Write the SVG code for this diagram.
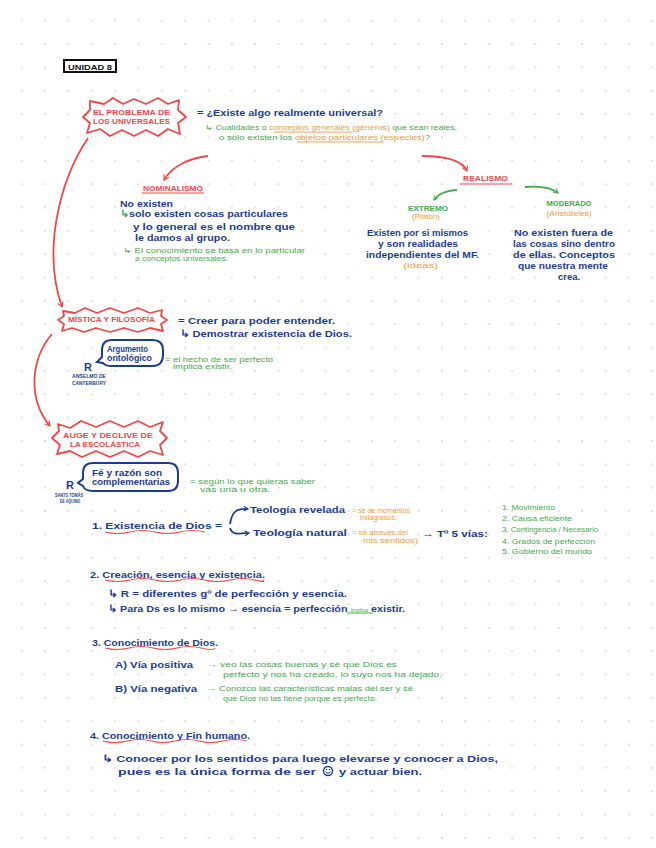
<svg xmlns="http://www.w3.org/2000/svg" width="656" height="848" viewBox="0 0 656 848">
<defs>
<pattern id="dots" patternUnits="userSpaceOnUse" x="10" y="9" width="23.35" height="23.35">
<circle cx="11.7" cy="11.7" r="0.9" fill="#cfcfcf"/>
</pattern>
<marker id="ar" viewBox="0 0 10 10" refX="8" refY="5" markerWidth="7" markerHeight="7" orient="auto" markerUnits="userSpaceOnUse"><path d="M1,1 L8,5 L1,9" fill="none" stroke="#ef4848" stroke-width="1.6"/></marker>
<marker id="ag" viewBox="0 0 10 10" refX="8" refY="5" markerWidth="6" markerHeight="6" orient="auto" markerUnits="userSpaceOnUse"><path d="M1,1 L8,5 L1,9" fill="none" stroke="#45a94c" stroke-width="1.6"/></marker>
<marker id="ab" viewBox="0 0 10 10" refX="8" refY="5" markerWidth="6" markerHeight="6" orient="auto" markerUnits="userSpaceOnUse"><path d="M1,1 L8,5 L1,9" fill="none" stroke="#1c3d8f" stroke-width="1.8"/></marker>
</defs>
<style>
text{font-family:"Liberation Sans",Arial,sans-serif}
.b{fill:#1c3d8f;font-size:9.5px;font-weight:bold}
.bs{fill:#1c3d8f;font-size:8.5px;font-weight:bold}
.g{fill:#45a94c;font-size:6.5px}
.o{fill:#f39a3c;font-size:6.5px}
.r{fill:#ef4848;font-size:7.5px;font-weight:bold}
.rh{fill:#ef4848;font-size:8px;font-weight:bold}
.tiny{fill:#1c3d8f;font-size:4.5px;font-weight:bold}
.burst{fill:#fff;stroke:#ef4848;stroke-width:1.8;stroke-linejoin:round}
.bub{fill:#fff;stroke:#1c3d8f;stroke-width:2}
.ra{fill:none;stroke:#ef4848;stroke-width:1.8;marker-end:url(#ar)}
.ga{fill:none;stroke:#45a94c;stroke-width:1.8;marker-end:url(#ag)}
.ba{fill:none;stroke:#1c3d8f;stroke-width:1.8;marker-end:url(#ab)}
.ul{fill:none;stroke:#ef4848;stroke-width:1.2}
.ou{fill:none;stroke:#f39a3c;stroke-width:0.9}
</style>
<rect width="656" height="848" fill="#fff"/>
<rect width="656" height="848" fill="url(#dots)"/>

<g id="unidad">
<rect x="64" y="60" width="52" height="12" fill="#fff" stroke="#111" stroke-width="2"/>
<text x="68" y="69.5" font-size="7" font-weight="bold" fill="#111" textLength="44" lengthAdjust="spacingAndGlyphs">UNIDAD 8</text>
</g>

<g id="connectors">
<path class="ra" d="M88,138 C60,180 42,250 62,307"/>
<path class="ra" d="M52,334 C30,360 28,400 50,426"/>
<path class="ra" d="M208,156 C190,158 172,166 164,180"/>
<path class="ra" d="M422,156 C445,156 462,160 467,171"/>
<path class="ga" d="M457,190 C447,190 438,194 434,200"/>
<path class="ga" d="M525,187 C540,186 552,188 558,193"/>
<path class="ba" d="M230,524 C232,512 236,508 248,509"/>
<path class="ba" d="M230,528 C232,535 238,534 249,533"/>
</g>

<g id="problema">
<path class="burst" d="M90,101 L104,104 L113,98 L123,104 L134,99 L146,104 L158,98 L168,104 L179,100 L178,110 L186,117 L178,123 L180,134 L168,129 L158,136 L146,130 L134,136 L122,130 L110,136 L100,129 L87,133 L90,123 L83,117 L90,110 Z"/>
<text class="r" x="93" y="114.5" textLength="77" lengthAdjust="spacingAndGlyphs">EL PROBLEMA DE</text>
<text class="r" x="93" y="124" textLength="77" lengthAdjust="spacingAndGlyphs">LOS UNIVERSALES</text>
</g>

<g id="pregunta">
<text class="b" x="197" y="116" textLength="186" lengthAdjust="spacingAndGlyphs">= ¿Existe algo realmente universal?</text>
<text class="g" x="205" y="130" textLength="252" lengthAdjust="spacingAndGlyphs">↳ Cualidades o <tspan fill="#f39a3c">conceptos generales</tspan> <tspan fill="#f39a3c">(géneros)</tspan> que sean reales,</text>
<text class="g" x="219" y="140" textLength="211" lengthAdjust="spacingAndGlyphs">o solo existen los <tspan fill="#f39a3c">objetos particulares</tspan> <tspan fill="#f39a3c">(especies)</tspan>?</text>
<path class="ou" d="M274,132 H353 M297,142 H382"/>
</g>

<g id="nominalismo">
<text class="rh" x="143" y="190.5" textLength="60" lengthAdjust="spacingAndGlyphs">NOMINALISMO</text>
<path class="ul" d="M142,193 H204"/>
<text class="b" x="120" y="206.5" textLength="53" lengthAdjust="spacingAndGlyphs">No existen</text>
<text class="b" x="120" y="216.5" textLength="168" lengthAdjust="spacingAndGlyphs"><tspan fill="#45a94c">↳</tspan>solo existen cosas particulares</text>
<text class="b" x="133" y="229.5" textLength="162" lengthAdjust="spacingAndGlyphs">y lo general es el nombre que</text>
<text class="b" x="135" y="240.5" textLength="95" lengthAdjust="spacingAndGlyphs">le damos al grupo.</text>
<text class="g" x="123" y="252.5" textLength="182" lengthAdjust="spacingAndGlyphs">↳ El conocimiento se basa en lo particular</text>
<text class="g" x="135" y="260.5" textLength="93" lengthAdjust="spacingAndGlyphs">a conceptos universales.</text>
</g>

<g id="realismo">
<text class="rh" x="463" y="181" textLength="45" lengthAdjust="spacingAndGlyphs">REALISMO</text>
<path class="ul" d="M460,184 H512"/>
</g>

<g id="extremo">
<text x="428" y="210.5" text-anchor="middle" fill="#45a94c" font-size="7" font-weight="bold" textLength="40" lengthAdjust="spacingAndGlyphs">EXTREMO</text>
<text class="o" x="426" y="219" text-anchor="middle" textLength="28" lengthAdjust="spacingAndGlyphs">(Platón)</text>
<text class="b" x="367" y="235.5" textLength="101" lengthAdjust="spacingAndGlyphs">Existen por si mismos</text>
<text class="b" x="378" y="246.5" textLength="80" lengthAdjust="spacingAndGlyphs">y son realidades</text>
<text class="b" x="366" y="257.5" textLength="113" lengthAdjust="spacingAndGlyphs">independientes del MF.</text>
<text class="o" x="403" y="267.5" textLength="35" lengthAdjust="spacingAndGlyphs">(Ideas)</text>
</g>

<g id="moderado">
<text x="569" y="205.5" text-anchor="middle" fill="#45a94c" font-size="7" font-weight="bold" textLength="45" lengthAdjust="spacingAndGlyphs">MODERADO</text>
<text class="o" x="569" y="215.5" text-anchor="middle" textLength="45" lengthAdjust="spacingAndGlyphs">(Aristóteles)</text>
<text class="b" x="514" y="235.5" textLength="99" lengthAdjust="spacingAndGlyphs">No existen fuera de</text>
<text class="b" x="513" y="246.5" textLength="102" lengthAdjust="spacingAndGlyphs">las cosas sino dentro</text>
<text class="b" x="513" y="257.5" textLength="102" lengthAdjust="spacingAndGlyphs">de ellas. Conceptos</text>
<text class="b" x="518" y="268.5" textLength="90" lengthAdjust="spacingAndGlyphs">que nuestra mente</text>
<text class="b" x="558" y="279.5" textLength="22" lengthAdjust="spacingAndGlyphs">crea.</text>
</g>

<g id="mistica">
<path class="burst" d="M63,311 L75,313 L85,308 L97,313 L110,308 L124,313 L138,308 L150,313 L162,310 L161,316 L167,320 L161,324 L163,331 L150,328 L138,332 L124,328 L110,332 L96,328 L84,332 L72,328 L62,331 L64,324 L58,320 L64,316 Z"/>
<text class="r" x="68" y="322" textLength="87" lengthAdjust="spacingAndGlyphs">MÍSTICA Y FILOSOFÍA</text>
<text class="b" x="178" y="323.5" textLength="157" lengthAdjust="spacingAndGlyphs">= Creer para poder entender.</text>
<text class="b" x="180" y="336.5" textLength="172" lengthAdjust="spacingAndGlyphs">↳ Demostrar existencia de Dios.</text>
</g>

<g id="anselmo">
<path class="bub" d="M112,340 H152 Q163,340 163,350 V355 Q163,366 152,366 H112 Q105,366 103,363 L97,362 L102,357 V350 Q102,340 112,340 Z"/>
<text class="bs" x="107" y="352" font-size="7.5px" textLength="41" lengthAdjust="spacingAndGlyphs">Argumento</text>
<text class="bs" x="107" y="360.5" font-size="7.5px" textLength="45" lengthAdjust="spacingAndGlyphs">ontológico</text>
<text x="84" y="371" fill="#1c3d8f" font-size="11" font-weight="bold">R</text>
<text class="tiny" x="89" y="377.5" text-anchor="middle" textLength="34" lengthAdjust="spacingAndGlyphs">ANSELMO DE</text>
<text class="tiny" x="89" y="384.5" text-anchor="middle" textLength="34" lengthAdjust="spacingAndGlyphs">CANTERBURY</text>
<text class="g" x="165" y="362" textLength="108" lengthAdjust="spacingAndGlyphs">= el hecho de ser perfecto</text>
<text class="g" x="173" y="369" textLength="59" lengthAdjust="spacingAndGlyphs">implica existir.</text>
</g>

<g id="auge">
<path class="burst" d="M58,424 L70,428 L81,421 L96,427 L110,421 L124,427 L138,421 L150,427 L163,422 L160,431 L167,438 L160,445 L163,455 L150,451 L138,457 L124,451 L110,457 L96,451 L82,457 L70,451 L57,454 L60,445 L52,438 L59,431 Z"/>
<text class="r" x="63" y="437.5" textLength="90" lengthAdjust="spacingAndGlyphs">AUGE Y DECLIVE DE</text>
<text class="r" x="70" y="447" textLength="70" lengthAdjust="spacingAndGlyphs">LA ESCOLÁSTICA</text>
</g>

<g id="tomas">
<path class="bub" d="M93,463 H168 Q178,463 178,473 V481 Q178,491 168,491 H93 Q85,491 83,486 L78,483 L83,479 V473 Q83,463 93,463 Z"/>
<text class="bs" x="92" y="475.5" textLength="70" lengthAdjust="spacingAndGlyphs">Fé y razón son</text>
<text class="bs" x="92" y="485" textLength="78" lengthAdjust="spacingAndGlyphs">complementarias</text>
<text x="66" y="488.5" fill="#1c3d8f" font-size="11" font-weight="bold">R</text>
<text class="tiny" x="69" y="497" text-anchor="middle" textLength="28" lengthAdjust="spacingAndGlyphs">SANTO TOMÁS</text>
<text class="tiny" x="70" y="503" text-anchor="middle" textLength="20" lengthAdjust="spacingAndGlyphs">DE AQUINO</text>
<text class="g" x="190" y="484" textLength="125" lengthAdjust="spacingAndGlyphs">= según lo que quieras saber</text>
<text class="g" x="200" y="492" textLength="70" lengthAdjust="spacingAndGlyphs">vas una u otra.</text>
</g>

<g id="existencia">
<text class="b" x="92" y="528.5" textLength="130" lengthAdjust="spacingAndGlyphs">1. Existencia de Dios =</text>
<path class="ul" d="M105,532 q12.5,3 25,0 t25,0 t25,0 t25,0"/>
<text class="b" x="250" y="513" textLength="95" lengthAdjust="spacingAndGlyphs">Teología revelada</text>
<text class="b" x="253" y="536" textLength="94" lengthAdjust="spacingAndGlyphs">Teología natural</text>
<text class="o" x="352" y="513" textLength="58" lengthAdjust="spacingAndGlyphs">= sé de momentos</text>
<text class="o" x="360" y="520" textLength="37" lengthAdjust="spacingAndGlyphs">milagrosos.</text>
<text class="o" x="352" y="535" textLength="56" lengthAdjust="spacingAndGlyphs">= sé através del</text>
<text class="o" x="363" y="543" textLength="55" lengthAdjust="spacingAndGlyphs">mis sentidos)</text>
<text class="b" x="422" y="536.5" textLength="66" lengthAdjust="spacingAndGlyphs">→ Tº 5 vías:</text>
<text class="g" x="502" y="510" textLength="53" lengthAdjust="spacingAndGlyphs">1. Movimiento</text>
<text class="g" x="502" y="521" textLength="70" lengthAdjust="spacingAndGlyphs">2. Causa eficiente</text>
<text class="g" x="502" y="532" textLength="96" lengthAdjust="spacingAndGlyphs">3. Contingencia / Necesario</text>
<text class="g" x="502" y="544" textLength="93" lengthAdjust="spacingAndGlyphs">4. Grados de perfección</text>
<text class="g" x="502" y="554" textLength="90" lengthAdjust="spacingAndGlyphs">5. Gobierno del mundo</text>
</g>

<g id="creacion">
<text class="b" x="90" y="577.5" textLength="175" lengthAdjust="spacingAndGlyphs">2. Creación, esencia y existencia.</text>
<path class="ul" d="M105,580 q12.5,3 25,0 t25,0 t25,0 t25,0 t25,0 t25,0 t7,0"/>
<text class="b" x="108" y="596.5" textLength="239" lengthAdjust="spacingAndGlyphs">↳ R = diferentes gº de perfección y esencia.</text>
<text class="b" x="108" y="612" textLength="297" lengthAdjust="spacingAndGlyphs">↳ Para Ds es lo mismo → esencia = perfección <tspan fill="#45a94c" font-size="5px" font-weight="normal">implica</tspan> existir.</text>
<path d="M347,613 H373" fill="none" stroke="#45a94c" stroke-width="1"/>
</g>

<g id="conocimiento">
<text class="b" x="92" y="646" textLength="126" lengthAdjust="spacingAndGlyphs">3. Conocimiento de Dios.</text>
<path class="ul" d="M105,648 q12,3 24,0 t24,0 t24,0 t24,0 t14,0"/>
<text class="b" x="115" y="668" textLength="78" lengthAdjust="spacingAndGlyphs">A) Vía positiva</text>
<text class="g" x="207" y="667" textLength="190" lengthAdjust="spacingAndGlyphs">→ veo las cosas buenas y sé que Dios es</text>
<text class="g" x="223" y="677" textLength="219" lengthAdjust="spacingAndGlyphs">perfecto y nos ha creado, lo suyo nos ha dejado.</text>
<text class="b" x="115" y="691.5" textLength="82" lengthAdjust="spacingAndGlyphs">B) Vía negativa</text>
<text class="g" x="207" y="691" textLength="206" lengthAdjust="spacingAndGlyphs">→ Conozco las características malas del ser y sé</text>
<text class="g" x="223" y="700.5" textLength="154" lengthAdjust="spacingAndGlyphs">que Dios no las tiene porque es perfecto.</text>
</g>

<g id="fin">
<text class="b" x="90" y="738.5" textLength="160" lengthAdjust="spacingAndGlyphs">4. Conocimiento y Fin humano.</text>
<path class="ul" d="M103,741 q12,3 24,0 t24,0 t24,0 t24,0 t24,0 t24,0"/>
<text class="b" x="102" y="762" textLength="396" lengthAdjust="spacingAndGlyphs">↳ Conocer por los sentidos para luego elevarse y conocer a Dios,</text>
<text class="b" x="118" y="775" textLength="198" lengthAdjust="spacingAndGlyphs">pues es la única forma de ser</text>
<text class="b" x="339" y="775" textLength="83" lengthAdjust="spacingAndGlyphs">y actuar bien.</text>
<circle cx="328" cy="771" r="4.5" fill="none" stroke="#1c3d8f" stroke-width="1.4"/>
<path d="M325.5,772 Q328,774.5 330.5,772" fill="none" stroke="#1c3d8f" stroke-width="1"/>
<circle cx="326.5" cy="769.5" r="0.7" fill="#1c3d8f"/>
<circle cx="329.5" cy="769.5" r="0.7" fill="#1c3d8f"/>
</g>
</svg>
